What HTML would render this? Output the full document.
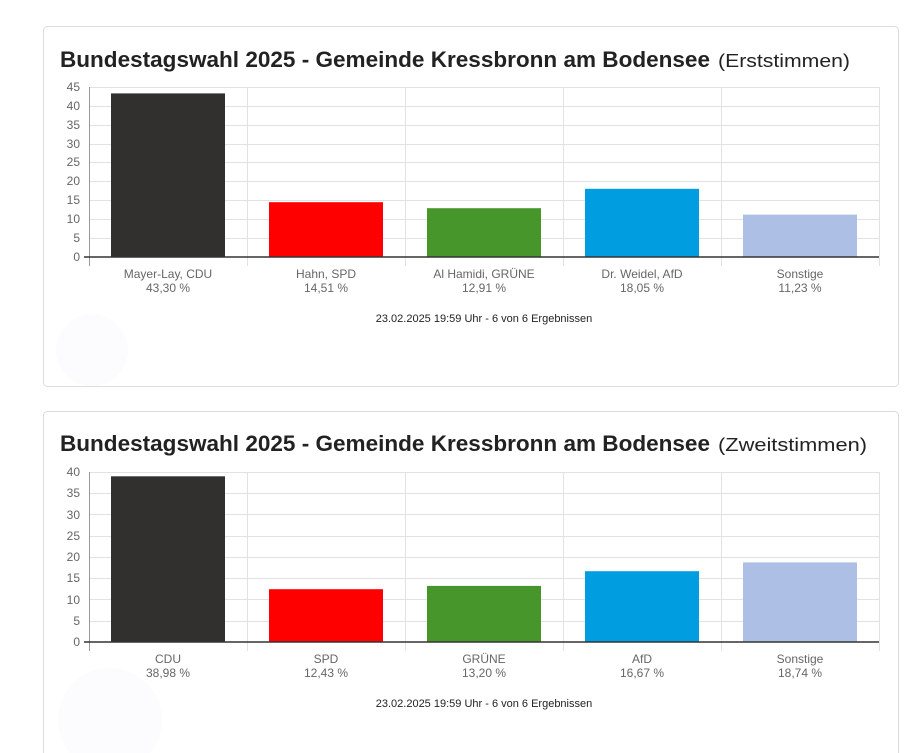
<!DOCTYPE html>
<html><head><meta charset="utf-8"><style>
html,body{margin:0;padding:0;background:#fff;width:913px;height:753px;overflow:hidden}
svg{display:block}
text{font-family:"Liberation Sans",sans-serif}
</style></head><body>
<svg width="913" height="753" xmlns="http://www.w3.org/2000/svg">
<rect x="43.5" y="26.5" width="855" height="360" rx="4" fill="#fff" stroke="#dcdcdc"/>
<rect x="43.5" y="411.5" width="855" height="360" rx="4" fill="#fff" stroke="#dcdcdc"/>
<circle cx="92" cy="350" r="36" fill="#fcfcfe"/>
<circle cx="110" cy="720" r="52" fill="#fcfcfe"/>

<!-- Chart 1 -->
<text x="60" y="67" font-size="22" font-weight="bold" fill="#222" textLength="650" lengthAdjust="spacingAndGlyphs">Bundestagswahl 2025 - Gemeinde Kressbronn am Bodensee</text>
<text x="718" y="67" font-size="18" fill="#222" textLength="132" lengthAdjust="spacingAndGlyphs">(Erststimmen)</text>
<g stroke="#e2e2e2" stroke-width="1">
<line x1="90" y1="87.5" x2="879" y2="87.5"/><line x1="90" y1="106.5" x2="879" y2="106.5"/><line x1="90" y1="125.5" x2="879" y2="125.5"/><line x1="90" y1="144.5" x2="879" y2="144.5"/><line x1="90" y1="162.5" x2="879" y2="162.5"/><line x1="90" y1="181.5" x2="879" y2="181.5"/><line x1="90" y1="200.5" x2="879" y2="200.5"/><line x1="90" y1="219.5" x2="879" y2="219.5"/><line x1="90" y1="238.5" x2="879" y2="238.5"/>
<line x1="247.5" y1="87" x2="247.5" y2="266"/><line x1="405.5" y1="87" x2="405.5" y2="266"/><line x1="563.5" y1="87" x2="563.5" y2="266"/><line x1="721.5" y1="87" x2="721.5" y2="266"/><line x1="879.5" y1="87" x2="879.5" y2="266"/>
</g>
<line x1="89.5" y1="87" x2="89.5" y2="266" stroke="#999"/>
<g font-size="12" fill="#666" text-anchor="end">
<text x="80" y="91">45</text><text x="80" y="110">40</text><text x="80" y="129">35</text><text x="80" y="148">30</text><text x="80" y="166">25</text><text x="80" y="185">20</text><text x="80" y="204">15</text><text x="80" y="223">10</text><text x="80" y="242">5</text><text x="80" y="261">0</text>
</g>
<rect x="111" y="93.4" width="114" height="163.6" fill="#32302e"/>
<rect x="269" y="202.2" width="114" height="54.8" fill="#ff0000"/>
<rect x="427" y="208.2" width="114" height="48.8" fill="#46962b"/>
<rect x="585" y="188.8" width="114" height="68.2" fill="#009ee0"/>
<rect x="743" y="214.6" width="114" height="42.4" fill="#aebfe6"/>
<line x1="84" y1="257" x2="879" y2="257" stroke="#333" stroke-width="1.5"/>
<g font-size="12" fill="#666" text-anchor="middle">
<text x="168" y="278">Mayer-Lay, CDU</text><text x="168" y="292">43,30 %</text>
<text x="326" y="278">Hahn, SPD</text><text x="326" y="292">14,51 %</text>
<text x="484" y="278">Al Hamidi, GRÜNE</text><text x="484" y="292">12,91 %</text>
<text x="642" y="278">Dr. Weidel, AfD</text><text x="642" y="292">18,05 %</text>
<text x="800" y="278">Sonstige</text><text x="800" y="292">11,23 %</text>
</g>
<text x="484" y="322" font-size="11" fill="#222" text-anchor="middle">23.02.2025 19:59 Uhr - 6 von 6 Ergebnissen</text>

<!-- Chart 2 -->
<text x="60" y="451" font-size="22" font-weight="bold" fill="#222" textLength="650" lengthAdjust="spacingAndGlyphs">Bundestagswahl 2025 - Gemeinde Kressbronn am Bodensee</text>
<text x="718" y="451" font-size="18" fill="#222" textLength="149" lengthAdjust="spacingAndGlyphs">(Zweitstimmen)</text>
<g stroke="#e2e2e2" stroke-width="1">
<line x1="90" y1="472.5" x2="879" y2="472.5"/><line x1="90" y1="493.5" x2="879" y2="493.5"/><line x1="90" y1="514.5" x2="879" y2="514.5"/><line x1="90" y1="536.5" x2="879" y2="536.5"/><line x1="90" y1="557.5" x2="879" y2="557.5"/><line x1="90" y1="578.5" x2="879" y2="578.5"/><line x1="90" y1="599.5" x2="879" y2="599.5"/><line x1="90" y1="621.5" x2="879" y2="621.5"/>
<line x1="247.5" y1="472" x2="247.5" y2="651"/><line x1="405.5" y1="472" x2="405.5" y2="651"/><line x1="563.5" y1="472" x2="563.5" y2="651"/><line x1="721.5" y1="472" x2="721.5" y2="651"/><line x1="879.5" y1="472" x2="879.5" y2="651"/>
</g>
<line x1="89.5" y1="472" x2="89.5" y2="651" stroke="#999"/>
<g font-size="12" fill="#666" text-anchor="end">
<text x="80" y="476">40</text><text x="80" y="497">35</text><text x="80" y="519">30</text><text x="80" y="540">25</text><text x="80" y="561">20</text><text x="80" y="582">15</text><text x="80" y="604">10</text><text x="80" y="625">5</text><text x="80" y="646">0</text>
</g>
<rect x="111" y="476.3" width="114" height="165.7" fill="#32302e"/>
<rect x="269" y="589.2" width="114" height="52.8" fill="#ff0000"/>
<rect x="427" y="585.9" width="114" height="56.1" fill="#46962b"/>
<rect x="585" y="571.2" width="114" height="70.8" fill="#009ee0"/>
<rect x="743" y="562.4" width="114" height="79.6" fill="#aebfe6"/>
<line x1="84" y1="642" x2="879" y2="642" stroke="#333" stroke-width="1.5"/>
<g font-size="12" fill="#666" text-anchor="middle">
<text x="168" y="663">CDU</text><text x="168" y="677">38,98 %</text>
<text x="326" y="663">SPD</text><text x="326" y="677">12,43 %</text>
<text x="484" y="663">GRÜNE</text><text x="484" y="677">13,20 %</text>
<text x="642" y="663">AfD</text><text x="642" y="677">16,67 %</text>
<text x="800" y="663">Sonstige</text><text x="800" y="677">18,74 %</text>
</g>
<text x="484" y="707" font-size="11" fill="#222" text-anchor="middle">23.02.2025 19:59 Uhr - 6 von 6 Ergebnissen</text>
</svg>
</body></html>
